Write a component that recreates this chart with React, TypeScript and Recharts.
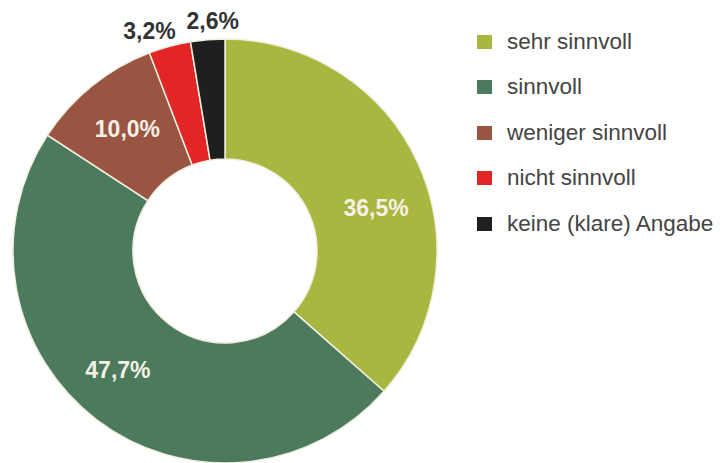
import { PieChart, Pie, Cell, Legend } from "recharts";

const categories = [
  "sehr sinnvoll",
  "sinnvoll",
  "weniger sinnvoll",
  "nicht sinnvoll",
  "keine (klare) Angabe",
];
const shares = [36.5, 47.7, 10.0, 3.2, 2.6];
const colors = ["#a9b640", "#4b7a5d", "#9a5542", "#e42526", "#1f1f1f"];

// small hand nudges for the value labels (dx, dy)
const labelNudge = [
  [8, 22],
  [-12, -6],
  [1, 0],
  [-14, 8],
  [7, 5],
];

const data = categories.map((name, i) => ({ name, value: shares[i] }));

const RAD = Math.PI / 180;

const renderLabel = (props: any) => {
  const { cx, cy, midAngle, index, value } = props;
  const outside = value < 5;
  const r = outside ? 236 : 157;
  const x = cx + r * Math.cos(-midAngle * RAD) + labelNudge[index][0];
  const y = cy + r * Math.sin(-midAngle * RAD) + labelNudge[index][1];
  return (
    <text
      x={x}
      y={y}
      textAnchor="middle"
      dominantBaseline="central"
      fill={outside ? "#333333" : "#f4f1e6"}
      fontSize={23}
      fontWeight="bold"
      fontFamily="Liberation Sans, Arial, sans-serif"
    >
      {value.toFixed(1).replace(".", ",") + "%"}
    </text>
  );
};

const LegendBox = () => (
  <div style={{ fontFamily: "Liberation Sans, Arial, sans-serif" }}>
    {categories.map((c, i) => (
      <div
        key={c}
        style={{ display: "flex", alignItems: "center", height: 45.5 }}
      >
        <span
          style={{
            width: 15,
            height: 14,
            background: colors[i],
            display: "inline-block",
            marginRight: 15,
          }}
        />
        <span style={{ fontSize: 22.5, color: "#444" }}>{c}</span>
      </div>
    ))}
  </div>
);

export default function App() {
  return (
    <div style={{ position: "absolute", left: 0, top: 0, background: "#fff" }}>
      <PieChart width={721} height={463} margin={{ top: 0, right: 0, bottom: 0, left: 0 }}>
        <Pie
          data={data}
          dataKey="value"
          nameKey="name"
          cx={225}
          cy={251}
          outerRadius={212}
          innerRadius={92}
          startAngle={90}
          endAngle={-270}
          stroke="#f2efe0"
          strokeWidth={1.5}
          label={renderLabel}
          labelLine={false}
          isAnimationActive={false}
        >
          {data.map((d, i) => (
            <Cell key={d.name} fill={colors[i]} />
          ))}
        </Pie>
        <Legend
          layout="vertical"
          verticalAlign="top"
          align="right"
          wrapperStyle={{ left: 477, top: 19, width: 244 }}
          content={() => <LegendBox />}
        />
      </PieChart>
    </div>
  );
}
